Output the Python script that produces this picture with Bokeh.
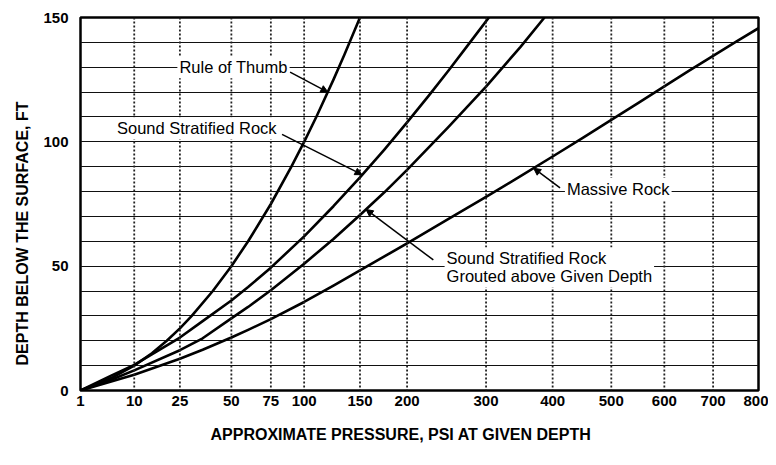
import numpy as np
from bokeh.plotting import figure
from bokeh.models import (FixedTicker, Range1d, Label, Arrow, NormalHead,
                          CustomJSTickFormatter, Span, Title)
from bokeh.embed import file_html
from bokeh.resources import INLINE

# ---- data ----
pressure_ticks = [1, 10, 25, 50, 75, 100, 150, 200, 300, 400, 500, 600, 700, 800]
depth_ticks = [0, 50, 100, 150]
depth_grid = [10, 20, 30, 40, 50, 60, 70, 80, 90, 100, 110, 120, 130, 140]

rule_psi = [1, 5, 10, 15, 20, 25, 30, 40, 50, 60, 75, 90, 100, 110, 125, 135, 150]
rule_depth = [0, 5, 10, 15, 20, 25, 30, 40, 50, 60, 75, 90, 100, 110, 125, 135, 150]

sound_psi = [1, 5, 10, 25, 35, 50, 60, 75, 100, 125, 150, 175, 200, 225, 250, 275, 304]
sound_depth = [0, 6.0, 10.3, 21.3, 27.9, 36.2, 41.6, 49.4, 62.0, 74.1, 85.7, 96.9,
               107.8, 118.4, 128.7, 138.8, 150]

grouted_psi = [1, 5, 10, 25, 35, 50, 60, 75, 100, 125, 150, 175, 200, 250, 300, 350, 387]
grouted_depth = [0, 4.3, 8.1, 16.2, 21.0, 29.0, 33.6, 40.3, 51.0, 60.9, 70.6, 79.7,
                 88.7, 106.0, 122.2, 138.2, 150]

massive_psi = [1, 10, 25, 35, 50, 60, 75, 100, 125, 150, 175, 200, 250, 300, 350,
               400, 450, 500, 550, 600, 650, 700, 750, 800]
massive_depth = [0, 6.3, 12.8, 16.4, 21.3, 24.4, 28.7, 35.6, 42.2, 48.3, 53.9, 59.2,
                 69.0, 77.9, 86.2, 94.1, 101.6, 108.8, 115.7, 122.3, 128.6, 134.6,
                 140.3, 145.7]

FONT = "Liberation Sans"

p = figure(width=768, height=465, output_backend="svg", toolbar_location=None,
           x_range=Range1d(1, np.sqrt(800)), y_range=Range1d(0, 150),
           min_border_left=80, min_border_right=10, min_border_top=17,
           min_border_bottom=75)
p.background_fill_color = "white"
p.border_fill_color = "white"
p.outline_line_color = "black"
p.outline_line_width = 2.5

# axes
p.xaxis.ticker = FixedTicker(ticks=[float(np.sqrt(v)) for v in pressure_ticks])
p.xaxis.formatter = CustomJSTickFormatter(code="return String(Math.round(tick*tick));")
p.yaxis.ticker = FixedTicker(ticks=depth_ticks)
for ax in (p.xaxis, p.yaxis):
    ax.axis_line_color = None
    ax.major_tick_line_color = None
    ax.minor_tick_line_color = None
    ax.major_tick_out = 0
    ax.major_tick_in = 0
    ax.major_label_text_font = FONT
    ax.major_label_text_font_size = "15px"
    ax.major_label_text_font_style = "bold"
    ax.major_label_text_color = "black"
p.xaxis.major_label_standoff = 5
p.yaxis.major_label_standoff = 12

# axis titles (as offset titles so they can sit where the reference has them)
p.add_layout(Title(text="APPROXIMATE PRESSURE, PSI AT GIVEN DEPTH", align="left",
                   offset=130, standoff=30, text_font=FONT, text_font_size="16px",
                   text_font_style="bold", text_color="black"), "below")
p.add_layout(Title(text="DEPTH BELOW THE SURFACE, FT", align="left",
                   offset=25, standoff=19, text_font=FONT, text_font_size="16px",
                   text_font_style="bold", text_color="black"), "left")

# grids: solid horizontal lines every 10 ft, dotted verticals at pressure ticks
p.xgrid.grid_line_color = None
p.ygrid.ticker = FixedTicker(ticks=depth_grid)
p.ygrid.grid_line_color = "#111111"
p.ygrid.grid_line_width = 1
for v in pressure_ticks[1:-1]:
    p.add_layout(Span(location=float(np.sqrt(v)), dimension="height",
                      line_color="#222222", line_width=1.8, line_dash="2 2"))

# curves
for ps, ds in ((rule_psi, rule_depth), (sound_psi, sound_depth),
               (grouted_psi, grouted_depth), (massive_psi, massive_depth)):
    p.line(np.sqrt(ps), ds, line_color="black", line_width=2.6, line_join="round")

# annotations
def lab(x_psi, y, txt):
    p.add_layout(Label(x=float(np.sqrt(x_psi)), y=y, text=txt, text_font=FONT,
                       text_font_size="16.5px", text_color="black",
                       text_align="left", text_baseline="middle",
                       background_fill_color="white", padding=2,
                       text_line_height=1.0))

def arr(x0, y0, x1, y1):
    p.add_layout(Arrow(end=NormalHead(size=7, fill_color="black", line_color="black"),
                       x_start=float(np.sqrt(x0)), y_start=y0,
                       x_end=float(np.sqrt(x1)), y_end=y1,
                       line_color="black", line_width=1.5))

lab(24, 130, "Rule of Thumb")
arr(89, 128, 120, 120)
lab(5.7, 105.5, "Sound Stratified Rock")
arr(83, 103, 152, 86.8)
lab(420, 81, "Massive Rock")
arr(412, 81.5, 370, 89.4)
lab(245, 49.5, "Sound Stratified Rock\nGrouted above Given Depth")
arr(231, 52.5, 156, 72.8)

open("out.html", "w").write(file_html(p, INLINE))
